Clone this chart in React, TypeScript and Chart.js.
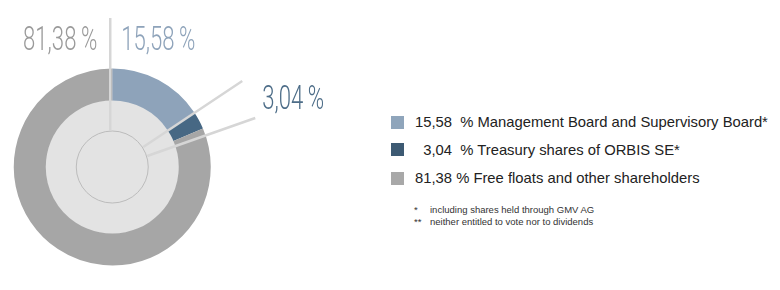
import React, { useEffect, useRef } from "react";
import { Chart, registerables } from "chart.js";

Chart.register(...registerables);

const categories = [
  "Management Board and Supervisory Board*",
  "Treasury shares of ORBIS SE*",
  "Free floats and other shareholders",
];
const values = [15.58, 3.04, 81.38];
const valueLabels = ["15,58", "3,04", "81,38"];
const ringColors = ["#8ea3ba", "#476884", "#a6a6a6"];
const legendColors = ["#8fa5bb", "#3d5a73", "#a8a8a8"];
const footnotes = [
  ["*", "including shares held through GMV AG"],
  ["**", "neither entitled to vote nor to dividends"],
];

const overlay = {
  id: "overlay",
  beforeDatasetsDraw(chart: any) {
    const arc = chart.getDatasetMeta(0).data[0];
    if (!arc) return;
    const { x, y, innerRadius } = arc;
    const ctx = chart.ctx;
    ctx.save();
    ctx.fillStyle = "#e3e3e3";
    ctx.beginPath();
    ctx.arc(x, y, innerRadius + 0.5, 0, Math.PI * 2);
    ctx.fill();
    ctx.strokeStyle = "#bcbcbc";
    ctx.lineWidth = 1;
    ctx.beginPath();
    ctx.arc(x, y, 36, 0, Math.PI * 2);
    ctx.stroke();
    ctx.restore();
  },
  afterDatasetsDraw(chart: any) {
    const arc = chart.getDatasetMeta(0).data[0];
    if (!arc) return;
    const { x, y } = arc;
    const ctx = chart.ctx;
    ctx.save();
    ctx.strokeStyle = "#d6d6d6";
    ctx.lineWidth = 2.5;
    ctx.lineCap = "butt";
    const lines = [
      [x - 2, 18, x - 2, y - 36],
      [x + 130, 81, x + 31, y - 20],
      [x + 143, 118, x + 35, y - 11],
    ];
    for (const [a, b, c, d] of lines) {
      ctx.beginPath();
      ctx.moveTo(a, b);
      ctx.lineTo(c, d);
      ctx.stroke();
    }
    // percentage labels
    const labelDefs = [
      { text: valueLabels[2] + "\u2009%", color: "#9a9a9a", ax: x - 15, by: 50, align: "right" },
      { text: valueLabels[0] + "\u2009%", color: "#8ea3ba", ax: x + 9, by: 50, align: "left" },
      { text: valueLabels[1] + "\u2009%", color: "#4d6d88", ax: x + 150, by: 109, align: "left" },
    ];
    ctx.font = "300 33px Roboto";
    ctx.textBaseline = "alphabetic";
    const sx = 0.67;
    for (const l of labelDefs) {
      const w = ctx.measureText(l.text).width * sx;
      const left = l.align === "right" ? l.ax - w : l.ax;
      ctx.save();
      ctx.translate(left, l.by);
      ctx.scale(sx, 1);
      ctx.fillStyle = l.color;
      ctx.textAlign = "left";
      ctx.fillText(l.text, 0, 0);
      ctx.restore();
    }
    ctx.restore();
  },
};

export default function App() {
  const ref = useRef<HTMLCanvasElement | null>(null);
  useEffect(() => {
    document.body.style.margin = "0";
    if (!ref.current) return;
    const chart = new Chart(ref.current, {
      type: "doughnut",
      data: {
        labels: categories,
        datasets: [
          {
            data: values,
            backgroundColor: ringColors,
            borderWidth: 0,
          },
        ],
      },
      options: {
        animation: false,
        responsive: false,
        cutout: "67.5%",
        layout: { padding: { left: 13.5, right: 129, top: 68.5, bottom: 24.5 } },
        plugins: { legend: { display: false }, tooltip: { enabled: false } },
      },
      plugins: [overlay],
    });
    return () => chart.destroy();
  }, []);

  const numbers = ["15,58  %", "  3,04  %", "81,38 %"];
  const rowTops = [122, 149.5, 178];
  return (
    <div style={{ position: "relative", width: 780, height: 290, background: "#fff", overflow: "hidden" }}>
      <canvas ref={ref} width={340} height={290} style={{ position: "absolute", left: 0, top: 0 }} />
      {categories.map((c, i) => (
        <div
          key={c}
          style={{
            position: "absolute",
            left: 391,
            top: rowTops[i] - 10,
            height: 20,
            display: "flex",
            alignItems: "center",
            fontFamily: "'Liberation Sans', Arial, sans-serif",
            fontSize: 14.8,
            color: "#222",
            whiteSpace: "pre",
          }}
        >
          <span style={{ display: "inline-block", width: 13, height: 13, background: legendColors[i], marginRight: 11 }} />
          <span>{numbers[i] + " " + c}</span>
        </div>
      ))}
      {footnotes.map((f, i) => (
        <div
          key={f[0]}
          style={{
            position: "absolute",
            left: 414,
            top: 204 + i * 12,
            fontFamily: "'Liberation Sans', Arial, sans-serif",
            fontSize: 9.5,
            lineHeight: "12px",
            color: "#333",
            whiteSpace: "pre",
          }}
        >
          <span style={{ display: "inline-block", width: 16 }}>{f[0]}</span>
          <span>{f[1]}</span>
        </div>
      ))}
    </div>
  );
}
